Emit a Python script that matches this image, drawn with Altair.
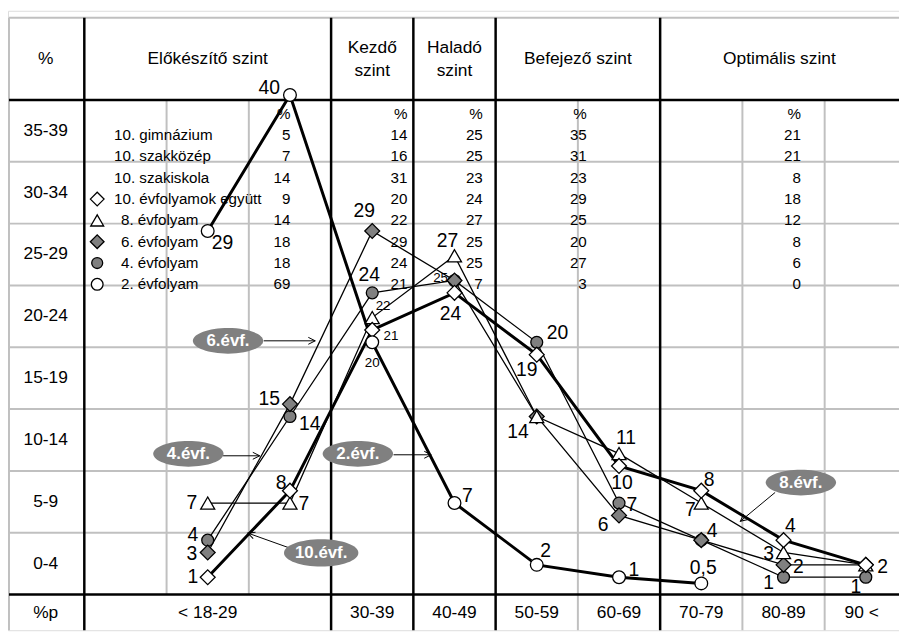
import math
import altair as alt
import pandas as pd

FONT = "Liberation Sans"

# ---------------- data ----------------
bands = ["< 18-29", "30-39", "40-49", "50-59", "60-69", "70-79", "80-89", "90 <"]
row_bands = ["0-4", "5-9", "10-14", "15-19", "20-24", "25-29", "30-34", "35-39"]
levels = ["Előkészítő szint", "Kezdő\nszint", "Haladó\nszint", "Befejező szint", "Optimális szint"]

ev2 = [29, 40, 20, 7, 2, 1, 0.5]
ev4 = [4, 14, 24, 25, 20, 7, 4, 1, 1]
ev6 = [3, 15, 29, 25, 14, 6, 4, 2, 2]
ev8 = [7, 7, 22, 27, 14, 11, 7, 3, 2]
ev10 = [1, 8, 21, 24, 19, 10, 8, 4, 2]

tbl_names = ["10. gimnázium", "10. szakközép", "10. szakiskola", "10. évfolyamok együtt",
             "8. évfolyam", "6. évfolyam", "4. évfolyam", "2. évfolyam"]
tbl_elokeszito = [5, 7, 14, 9, 14, 18, 18, 69]
tbl_kezdo = [14, 16, 31, 20, 22, 29, 24, 21]
tbl_halado = [25, 25, 23, 24, 27, 25, 25, 7]
tbl_befejezo = [35, 31, 23, 29, 25, 20, 27, 3]
tbl_optimalis = [21, 21, 8, 18, 12, 8, 6, 0]

callouts = ["6.évf.", "4.évf.", "2.évf.", "10.évf.", "8.évf."]

# ---------------- layout (pixel geometry of the table) ----------------
PX_COL0, PX_COLW = 85.0, 83.0       # x of thick line "0" and column width
PY_ZERO, PY_ROW = 597.0, 12.475     # y of value 0 and px per percent

def U(px):
    return (px - PX_COL0) / PX_COLW

def V(py):
    return (PY_ZERO - py) / PY_ROW

W, H = 899, 625
xs = alt.Scale(domain=[U(8), U(8 + W)], nice=False, zero=False)
ys = alt.Scale(domain=[V(8 + H), V(8)], nice=False, zero=False)
X = lambda f="x": alt.X(f"{f}:Q", scale=xs, axis=None)
Y = lambda f="y": alt.Y(f"{f}:Q", scale=ys, axis=None)

LEFT, RIGHT, TOP, BOT = U(9), U(8 + W), V(15), V(8 + H)
GRAY = "#c0c0c0"
MARK_GRAY = "#808080"
DATA_YOFF = -5

# label offsets in px (dx right, dy down), small flag; None = hidden
lab_off = {
    "2": [(15, 12, 0), (-21, -7, 0), (0, 21, 1), (13, -7, 0), (9, -14, 0), (15, -7, 0), (2, -15, 0)],
    "4": [(-15, -5, 0), (20, 8, 0), (-3, -18, 0), (-14, -2, 1), (21, -9, 0), (13, 2, 0), None, (-15, 6, 0), (-10, 10, 0)],
    "6": [(-16, 2, 0), (-21, -5, 0), (-8, -20, 0), None, None, (-16, 10, 0), (11, -9, 0), (15, 2, 0), None],
    "8": [(-16, 0, 0), (14, 1, 0), (11, -12, 1), (-7, -15, 0), (-19, 16, 0), (7, -16, 0), (-11, 7, 0), (-15, 2, 0), None],
    "10": [(-15, 0, 0), (-9, -8, 0), (19, 6, 1), (-4, 21, 0), (-10, 16, 0), (3, 17, 0), (8, -11, 0), (7, -14, 0), (17, 2, 0)],
}

series = {"2": ev2, "4": ev4, "6": ev6, "8": ev8, "10": ev10}

def sdf(name):
    vals = series[name]
    return pd.DataFrame({"series": name, "x": [i + 1.5 for i in range(len(vals))], "y": vals})

def fmt(v):
    return str(v).replace(".", ",") if isinstance(v, float) else str(v)

lab_rows = []
for name, vals in series.items():
    for i, v in enumerate(vals):
        o = lab_off[name][i]
        if o is None:
            continue
        dx, dy, small = o
        lab_rows.append({"t": fmt(v), "x": i + 1.5 + dx / PX_COLW, "y": v - dy / PY_ROW,
                         "fs": 13.5 if small else 19.5})
labels_df = pd.DataFrame(lab_rows)

# ---------------- table rules ----------------
gray_rules = []
for u in (1, 2):
    gray_rules.append((u, 0, u, 40))
for u in (6, 8, 9):
    gray_rules.append((u, BOT, u, 40))
gray_rules.append((LEFT, BOT, LEFT, TOP))
for v in range(5, 40, 5):
    gray_rules.append((LEFT, v, RIGHT, v))
gray_rules.append((LEFT, TOP, RIGHT, TOP))
black_rules = [(u, BOT, u, TOP) for u in (0, 3, 4, 5, 7)] + [(LEFT, 0, RIGHT, 0), (LEFT, 40, RIGHT, 40)]
cols = ["x", "y", "x2", "y2"]
gray_df = pd.DataFrame(gray_rules, columns=cols)
black_df = pd.DataFrame(black_rules, columns=cols)

def rules(df, color, width):
    return alt.Chart(df).mark_rule(color=color, strokeWidth=width).encode(
        x=X(), y=Y(), x2="x2:Q", y2="y2:Q")

layers = [rules(gray_df, GRAY, 2), rules(black_df, "black", 2.5)]

# ---------------- lines ----------------
thin = pd.concat([sdf("4"), sdf("6"), sdf("8")])
thick = pd.concat([sdf("2"), sdf("10")])
layers.append(alt.Chart(thin).mark_line(color="black", strokeWidth=1.3, yOffset=DATA_YOFF).encode(
    x=X(), y=Y(), detail="series:N", order="x:Q"))
layers.append(alt.Chart(thick).mark_line(color="black", strokeWidth=3, yOffset=DATA_YOFF).encode(
    x=X(), y=Y(), detail="series:N", order="x:Q"))

styles = {
    "4": dict(shape="circle", fill=MARK_GRAY, size=144),
    "6": dict(shape="diamond", fill=MARK_GRAY, size=225),
    "8": dict(shape="triangle-up", fill="white", size=200),
    "10": dict(shape="diamond", fill="white", size=225),
    "2": dict(shape="circle", fill="white", size=165),
}
for name in ["4", "6", "8", "10", "2"]:
    st = styles[name]
    layers.append(alt.Chart(sdf(name)).mark_point(
        shape=st["shape"], fill=st["fill"], filled=True, stroke="black", strokeWidth=1.3,
        size=st["size"], opacity=1, yOffset=DATA_YOFF).encode(x=X(), y=Y()))

layers.append(alt.Chart(labels_df).mark_text(font=FONT, color="black", baseline="middle",
                                             align="center", yOffset=DATA_YOFF).encode(
    x=X(), y=Y(), text="t:N", size=alt.Size("fs:Q", scale=None)))

# ---------------- inner table ----------------
row_py = [133.5 + 21.5 * k for k in range(len(tbl_names))]
name_px = [115, 115, 115, 115, 122, 122, 122, 122]
names_df = pd.DataFrame({"t": tbl_names, "x": [U(p) for p in name_px], "y": [V(p) for p in row_py]})
layers.append(alt.Chart(names_df).mark_text(font=FONT, fontSize=15.3, align="left", baseline="middle").encode(
    x=X(), y=Y(), text="t:N"))

num_rows = []
for col, rpx in zip([tbl_elokeszito, tbl_kezdo, tbl_halado, tbl_befejezo, tbl_optimalis],
                    [293, 411, 487, 592, 808]):
    num_rows.append({"t": "%", "x": U(rpx), "y": V(112)})
    for k, val in enumerate(col):
        num_rows.append({"t": str(val), "x": U(rpx), "y": V(row_py[k])})
layers.append(alt.Chart(pd.DataFrame(num_rows)).mark_text(font=FONT, fontSize=15.3, align="right",
                                                          baseline="middle").encode(
    x=X(), y=Y(), text="t:N"))

for k, name in zip([3, 4, 5, 6, 7], ["10", "8", "6", "4", "2"]):
    st = styles[name]
    d = pd.DataFrame({"x": [U(98)], "y": [V(row_py[k])]})
    layers.append(alt.Chart(d).mark_point(shape=st["shape"], fill=st["fill"], filled=True, stroke="black",
                                          strokeWidth=1.3, size=st["size"] * 0.85, opacity=1).encode(
        x=X(), y=Y()))

# ---------------- headers, row labels, bottom labels ----------------
head_rows = [{"t": "%", "x": U(46), "y": V(57)}]
for t, u in zip(levels, [1.5, 3.5, 4.5, 6.0, 8.45]):
    head_rows.append({"t": t, "x": u, "y": V(46) if "\n" in t else V(57)})
for k, t in enumerate(row_bands):
    head_rows.append({"t": t, "x": U(46), "y": 2.5 + 5 * k})
head_rows.append({"t": "%p", "x": U(46), "y": V(616)})
for t, u in zip(bands, [1.5, 3.5, 4.5, 5.5, 6.5, 7.5, 8.5, 9.45]):
    head_rows.append({"t": t, "x": u, "y": V(616)})
layers.append(alt.Chart(pd.DataFrame(head_rows)).mark_text(
    font=FONT, fontSize=17.5, align="center", baseline="middle", lineBreak="\n", lineHeight=23).encode(
    x=X(), y=Y(), text="t:N"))

# ---------------- callouts ----------------
c_center = [(230, 341), (190, 455), (361, 455), (324, 555), (808, 484)]
c_width = [71, 71, 71, 75, 71]
arrows = [((266, 341), (318, 341)), ((225, 457), (262, 457)), ((397, 456), (435, 456)),
          ((292, 550), (250, 535)), ((782, 494), (747, 523))]
arr_df = pd.DataFrame([{"x": U(a[0]), "y": V(a[1]), "x2": U(b[0]), "y2": V(b[1]),
                        "ang": (math.degrees(math.atan2(b[1] - a[1], b[0] - a[0])) + 360) % 360}
                       for a, b in arrows])
layers.append(alt.Chart(arr_df).mark_rule(color="black", strokeWidth=1).encode(
    x=X(), y=Y(), x2="x2:Q", y2="y2:Q"))
ARROW = "M -1 -0.5 L 0 0 L -1 0.5"
layers.append(alt.Chart(arr_df).mark_point(shape=ARROW, filled=False, color="black", strokeWidth=1,
                                           size=196, opacity=1).encode(
    x=alt.X("x2:Q", scale=xs, axis=None), y=alt.Y("y2:Q", scale=ys, axis=None),
    angle=alt.Angle("ang:Q", scale=None)))
ELLIPSE = ("M -1 0 C -1 -0.202 -0.552 -0.366 0 -0.366 C 0.552 -0.366 1 -0.202 1 0 "
           "C 1 0.202 0.552 0.366 0 0.366 C -0.552 0.366 -1 0.202 -1 0 Z")
call_df = pd.DataFrame({"t": callouts, "x": [U(c[0]) for c in c_center], "y": [V(c[1]) for c in c_center],
                        "sz": [w * w for w in c_width]})
layers.append(alt.Chart(call_df).mark_point(shape=ELLIPSE, filled=True, fill=MARK_GRAY, stroke=None,
                                            strokeWidth=0, opacity=1).encode(
    x=X(), y=Y(), size=alt.Size("sz:Q", scale=None)))
layers.append(alt.Chart(call_df).mark_text(font=FONT, fontSize=17, fontWeight="bold", color="white",
                                           align="center", baseline="middle").encode(
    x=X(), y=Y(), text="t:N"))

chart = alt.layer(*layers).properties(
    width=W, height=H, autosize=alt.AutoSizeParams(type="none"), padding=0
).configure_view(stroke=None).configure(background="white")

chart.save("out.html", embed_options={"renderer": "svg", "actions": False})
